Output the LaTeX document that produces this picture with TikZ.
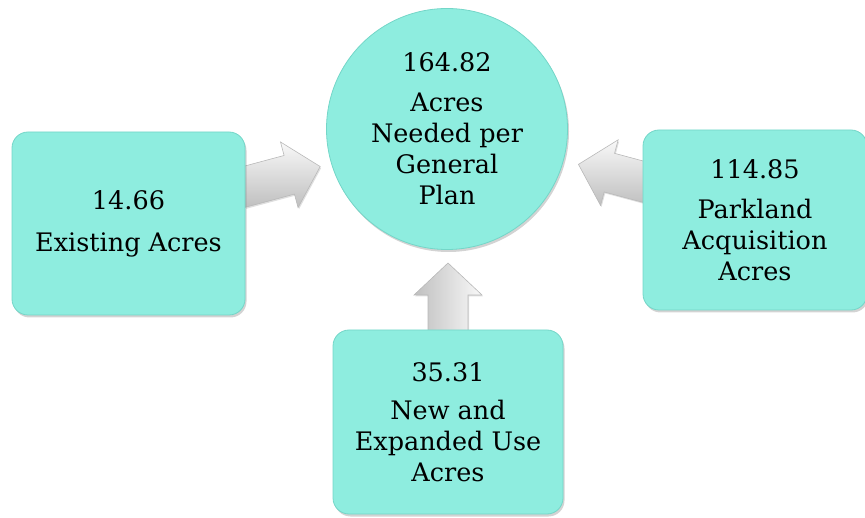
\documentclass[tikz,border=0pt]{standalone}
\usepackage{fontspec}
\setmainfont{DejaVu Serif}
\usetikzlibrary{shadows}
\definecolor{aqua}{HTML}{8EEDDF}
\definecolor{aquaedge}{HTML}{74D6C8}
\tikzset{
  shape fill/.style={fill=aqua, draw=aquaedge, line width=0.8pt,
    drop shadow={shadow xshift=1.5pt, shadow yshift=-2.5pt, opacity=0.35}},
  card/.style={shape fill, rectangle, rounded corners=16pt, align=center,
    font=\fontsize{25.5}{31}\selectfont},
  disc/.style={shape fill, circle, minimum size=241pt, inner sep=0pt, align=center,
    font=\fontsize{25.5}{31}\selectfont},
  arrowshade/.style={top color=gray!5, bottom color=gray!50},
  arrow length/.store in=\arrlen, arrow length=80,
  blockarrow/.pic={
    \path[arrowshade, draw=gray!55, line width=0.6pt,
      drop shadow={shadow xshift=1pt, shadow yshift=-1.5pt, opacity=0.25}]
      (0,-20) -- ({\arrlen-32},-20) -- ({\arrlen-32},-34) -- (\arrlen,0)
      -- ({\arrlen-32},34) -- ({\arrlen-32},20) -- (0,20) -- cycle;
  }
}
\begin{document}
\begin{tikzpicture}[x=1pt, y=1pt]
		\useasboundingbox (0,0) rectangle (865,517);
		% block arrows first, so their tails sit under the boxes
		\coordinate (lefttail) at (240,329);
		\coordinate (righttail) at (648,334);
		\coordinate (uptail) at (448,184);
		\pic[rotate=15, arrow length=83] at (lefttail) {blockarrow};
		\pic[rotate=-15, xscale=-1, arrow length=72] at (righttail) {blockarrow};
		\pic[rotate=90, arrow length=70,
		  arrowshade/.style={left color=gray!50, right color=gray!5}] at (uptail) {blockarrow};
		\node[disc] (needed) at (447,388) {164.82\\[9pt]Acres\\Needed per\\General\\Plan};
		\node[card, minimum width=233pt, minimum height=183pt] (existing) at (128.5,293.5) {14.66\\[11pt]Existing Acres};
		\node[card, minimum width=224pt, minimum height=180pt] (parkland) at (755,297) {114.85\\[9pt]Parkland\\Acquisition\\Acres};
		\node[card, minimum width=230pt, minimum height=184pt] (newuse) at (448,95) {35.31\\[7pt]New and\\Expanded Use\\Acres};
\end{tikzpicture}
\end{document}
